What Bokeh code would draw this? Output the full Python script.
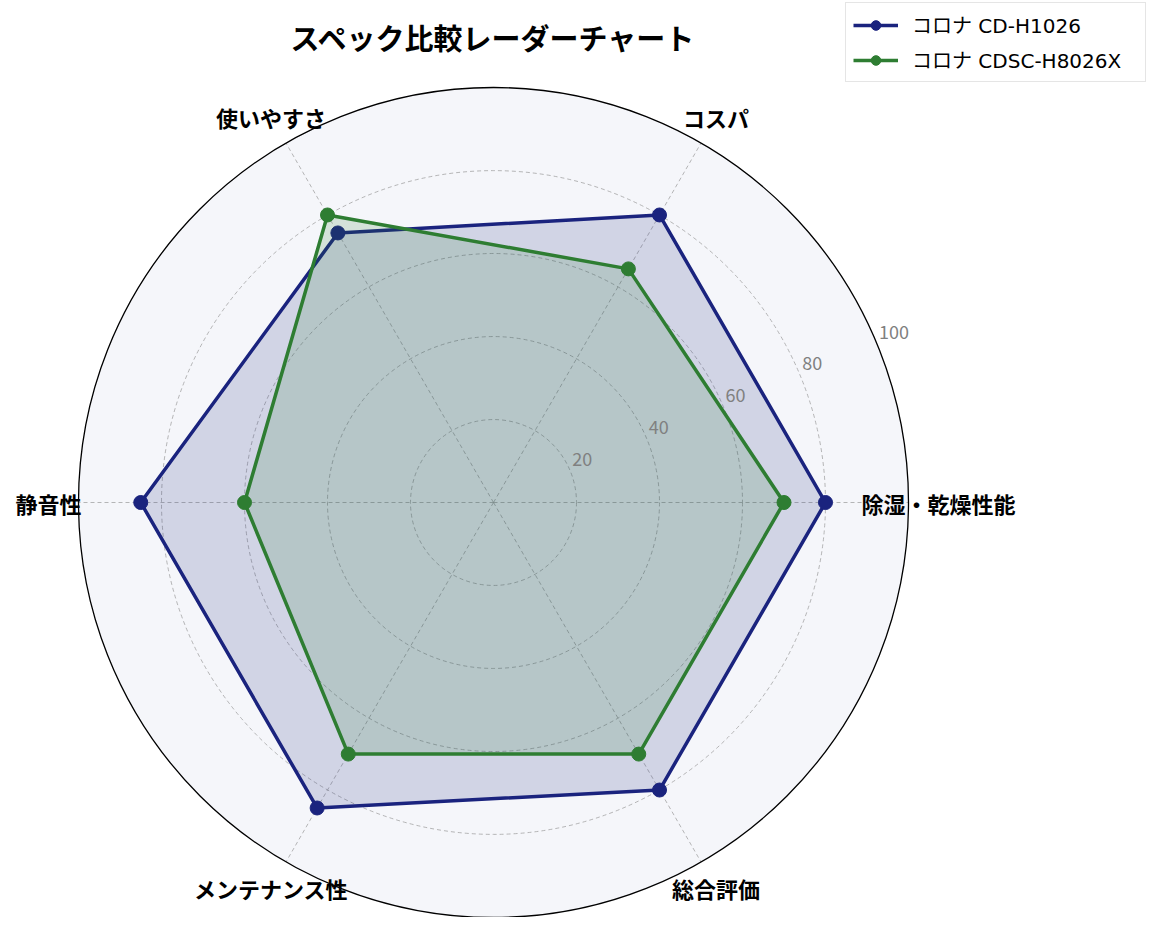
import numpy as np
from bokeh.plotting import figure
from bokeh.models import Range1d, Legend, LegendItem
from bokeh.core.properties import value
from bokeh.embed import file_html
from bokeh.resources import INLINE

title_text = "スペック比較レーダーチャート"
categories = ["除湿・乾燥性能", "コスパ", "使いやすさ", "静音性", "メンテナンス性", "総合評価"]
series_names = ["コロナ CD-H1026", "コロナ CDSC-H8026X"]
values_h1026 = [80, 80, 75, 85, 85, 80]
values_h8026x = [70, 65, 80, 60, 70, 70]
r_ticks = [20, 40, 60, 80, 100]
r_tick_labels = ["20", "40", "60", "80", "100"]
colors = ["#1a237e", "#2e7d32"]

FONT = "Noto Sans CJK JP"
LEGEND_FONT = "DejaVu Sans, Noto Sans CJK JP"
W, H = 1147, 917
scale = 4.15
cx, cy = 493, 502

p = figure(width=W, height=H,
           x_range=Range1d(-cx / scale, (W - cx) / scale),
           y_range=Range1d(-(H - cy) / scale, cy / scale),
           output_backend="svg", toolbar_location=None, min_border=0,
           x_axis_location=None, y_axis_location=None)
p.grid.visible = False
p.outline_line_color = None
p.background_fill_color = "white"
p.border_fill_color = "white"

n = len(categories)
theta = np.deg2rad(np.arange(n) * 360.0 / n)

# background disc
p.circle(x=[0], y=[0], radius=100, fill_color="#f5f6fa", line_color=None)

# grid circles
p.circle(x=[0] * 4, y=[0] * 4, radius=r_ticks[:-1], fill_color=None,
         line_color="#9a9a9a", line_width=0.8, line_dash="4 3", line_alpha=0.9)
# spokes
rmax = r_ticks[-1]
p.segment(x0=[0] * n, y0=[0] * n, x1=list(rmax * np.cos(theta)), y1=list(rmax * np.sin(theta)),
          line_color="#9a9a9a", line_width=0.8, line_dash="4 3", line_alpha=0.9)

items = []
for vals, col, name in zip([values_h1026, values_h8026x], colors, series_names):
    v = np.array(vals, dtype=float)
    xs = v * np.cos(theta)
    ys = v * np.sin(theta)
    p.patch(x=list(xs), y=list(ys), fill_color=col, fill_alpha=0.16, line_color=None)
    xl = list(xs) + [xs[0]]
    yl = list(ys) + [ys[0]]
    lr = p.line(x=xl, y=yl, line_color=col, line_width=3.5)
    sr = p.scatter(x=list(xs), y=list(ys), size=14, fill_color=col, line_color=col)
    items.append(LegendItem(label=name, renderers=[lr, sr]))

# outer circle spine
p.circle(x=[0], y=[0], radius=100, fill_color=None, line_color="black", line_width=1.3)

# radial tick labels
ang = np.deg2rad(22.5)
p.text(x=[r * np.cos(ang) for r in r_ticks], y=[r * np.sin(ang) for r in r_ticks],
       text=r_tick_labels, text_align="left", text_baseline="alphabetic",
       x_offset=2, y_offset=-12,
       text_font=value(FONT), text_font_size="18px", text_color="#808080")

# category labels
rl = 107.2
p.text(x=list(rl * np.cos(theta)), y=list(rl * np.sin(theta)), text=categories,
       text_align="center", text_baseline="middle",
       text_font=value(FONT), text_font_size="22px", text_font_style="bold",
       text_color="black")

# title
p.text(x=[0], y=[(cy - 36) / scale], text=[title_text], text_align="center",
       text_baseline="middle", text_font=value(FONT), text_font_size="29px",
       text_font_style="bold", text_color="black")

legend = Legend(items=items, location=(845, H - 82))
legend.margin = 0
legend.padding = 7
legend.spacing = 6
legend.glyph_width = 45
legend.glyph_height = 24
legend.label_height = 24
legend.label_width = 226
legend.label_standoff = 14
legend.label_text_font = LEGEND_FONT
legend.label_text_font_size = "20px"
legend.label_text_color = "black"
legend.label_text_baseline = "middle"
legend.border_line_color = "#cccccc"
legend.border_line_width = 1.5
legend.background_fill_color = "white"
legend.background_fill_alpha = 0.9
p.add_layout(legend)

open("out.html", "w").write(file_html(p, INLINE))
